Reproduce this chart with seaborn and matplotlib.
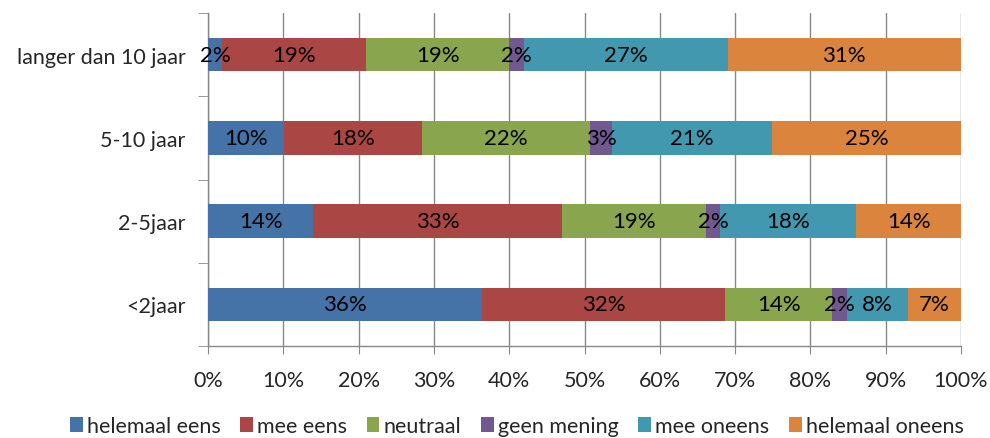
import matplotlib
matplotlib.use("Agg")
import matplotlib.pyplot as plt
from matplotlib.patches import Patch
from matplotlib.ticker import FixedLocator, PercentFormatter
import numpy as np
import pandas as pd
import seaborn as sns

# Survey answers per length of service (percent of respondents)
groups = ["langer dan 10 jaar", "5-10 jaar", "2-5jaar", "<2jaar"]
answers = ["helemaal eens", "mee eens", "neutraal", "geen mening",
           "mee oneens", "helemaal oneens"]
helemaal_eens = [1.9, 10.1, 14.0, 36.4]
mee_eens = [19.1, 18.3, 33.0, 32.3]
neutraal = [19.0, 22.3, 19.1, 14.2]
geen_mening = [2.0, 3.0, 1.9, 2.0]
mee_oneens = [27.0, 21.2, 18.1, 8.1]
helemaal_oneens = [31.0, 25.1, 13.9, 7.0]
x_ticks = [0, 10, 20, 30, 40, 50, 60, 70, 80, 90, 100]

colors = ["#4572A7", "#AA4643", "#89A54E", "#71588F", "#4198AF", "#DB843D"]

series = [helemaal_eens, mee_eens, neutraal, geen_mening, mee_oneens, helemaal_oneens]
df = pd.DataFrame({a: v for a, v in zip(answers, series)}, index=groups)
cum = df.cumsum(axis=1)

sns.set_style("white")
plt.rcParams["font.family"] = ["Lato", "DejaVu Sans"]
FS = 15.5

fig = plt.figure(figsize=(9.9, 4.39), dpi=100)
ax = fig.add_axes([208 / 990, 1 - 347 / 439, 753 / 990, 333 / 439])

# Stacked bars: draw cumulative totals from the outermost segment inwards
for ans, col in zip(reversed(answers), reversed(colors)):
    d = pd.DataFrame({"group": groups, "end": cum[ans].values})
    sns.barplot(data=d, x="end", y="group", order=groups, orient="h",
                color=col, width=0.4, saturation=1, ax=ax, zorder=3,
                linewidth=0)

# Value labels in the centre of each segment
for ans in answers:
    for i, g in enumerate(groups):
        v = df.loc[g, ans]
        ax.text(cum.loc[g, ans] - v / 2, i, f"{v:.0f}%", ha="center",
                va="center", fontsize=16, color="black", zorder=4)

ax.set_xlim(0, 100)
ax.set_ylim(3.5, -0.5)
ax.xaxis.set_major_locator(FixedLocator(x_ticks))
ax.xaxis.set_major_formatter(PercentFormatter(decimals=0))
ax.set_xlabel("")
ax.set_ylabel("")

ax.grid(axis="x", color="#888888", linewidth=1, zorder=0)
ax.grid(axis="y", visible=False)
for s in ["top", "right"]:
    ax.spines[s].set_visible(False)
for s in ["left", "bottom"]:
    ax.spines[s].set_color("#888888")
    ax.spines[s].set_linewidth(1)

ax.tick_params(axis="x", which="major", length=6, color="#888888",
               labelsize=FS, pad=11, bottom=True)
ax.tick_params(axis="y", which="major", length=0, labelsize=FS, pad=16)
ax.yaxis.set_minor_locator(FixedLocator([-0.5, 0.5, 1.5, 2.5, 3.5]))
ax.tick_params(axis="y", which="minor", length=7, color="#888888", left=True)

handles = [Patch(facecolor=c, edgecolor="none") for c in colors]
fig.legend(handles, answers, loc="center", bbox_to_anchor=(0.522, 0.027),
           ncol=6, frameon=False, fontsize=FS, handlelength=0.6,
           handleheight=0.7, handletextpad=0.2, columnspacing=0.9)

fig.savefig("out.png", dpi=100)
